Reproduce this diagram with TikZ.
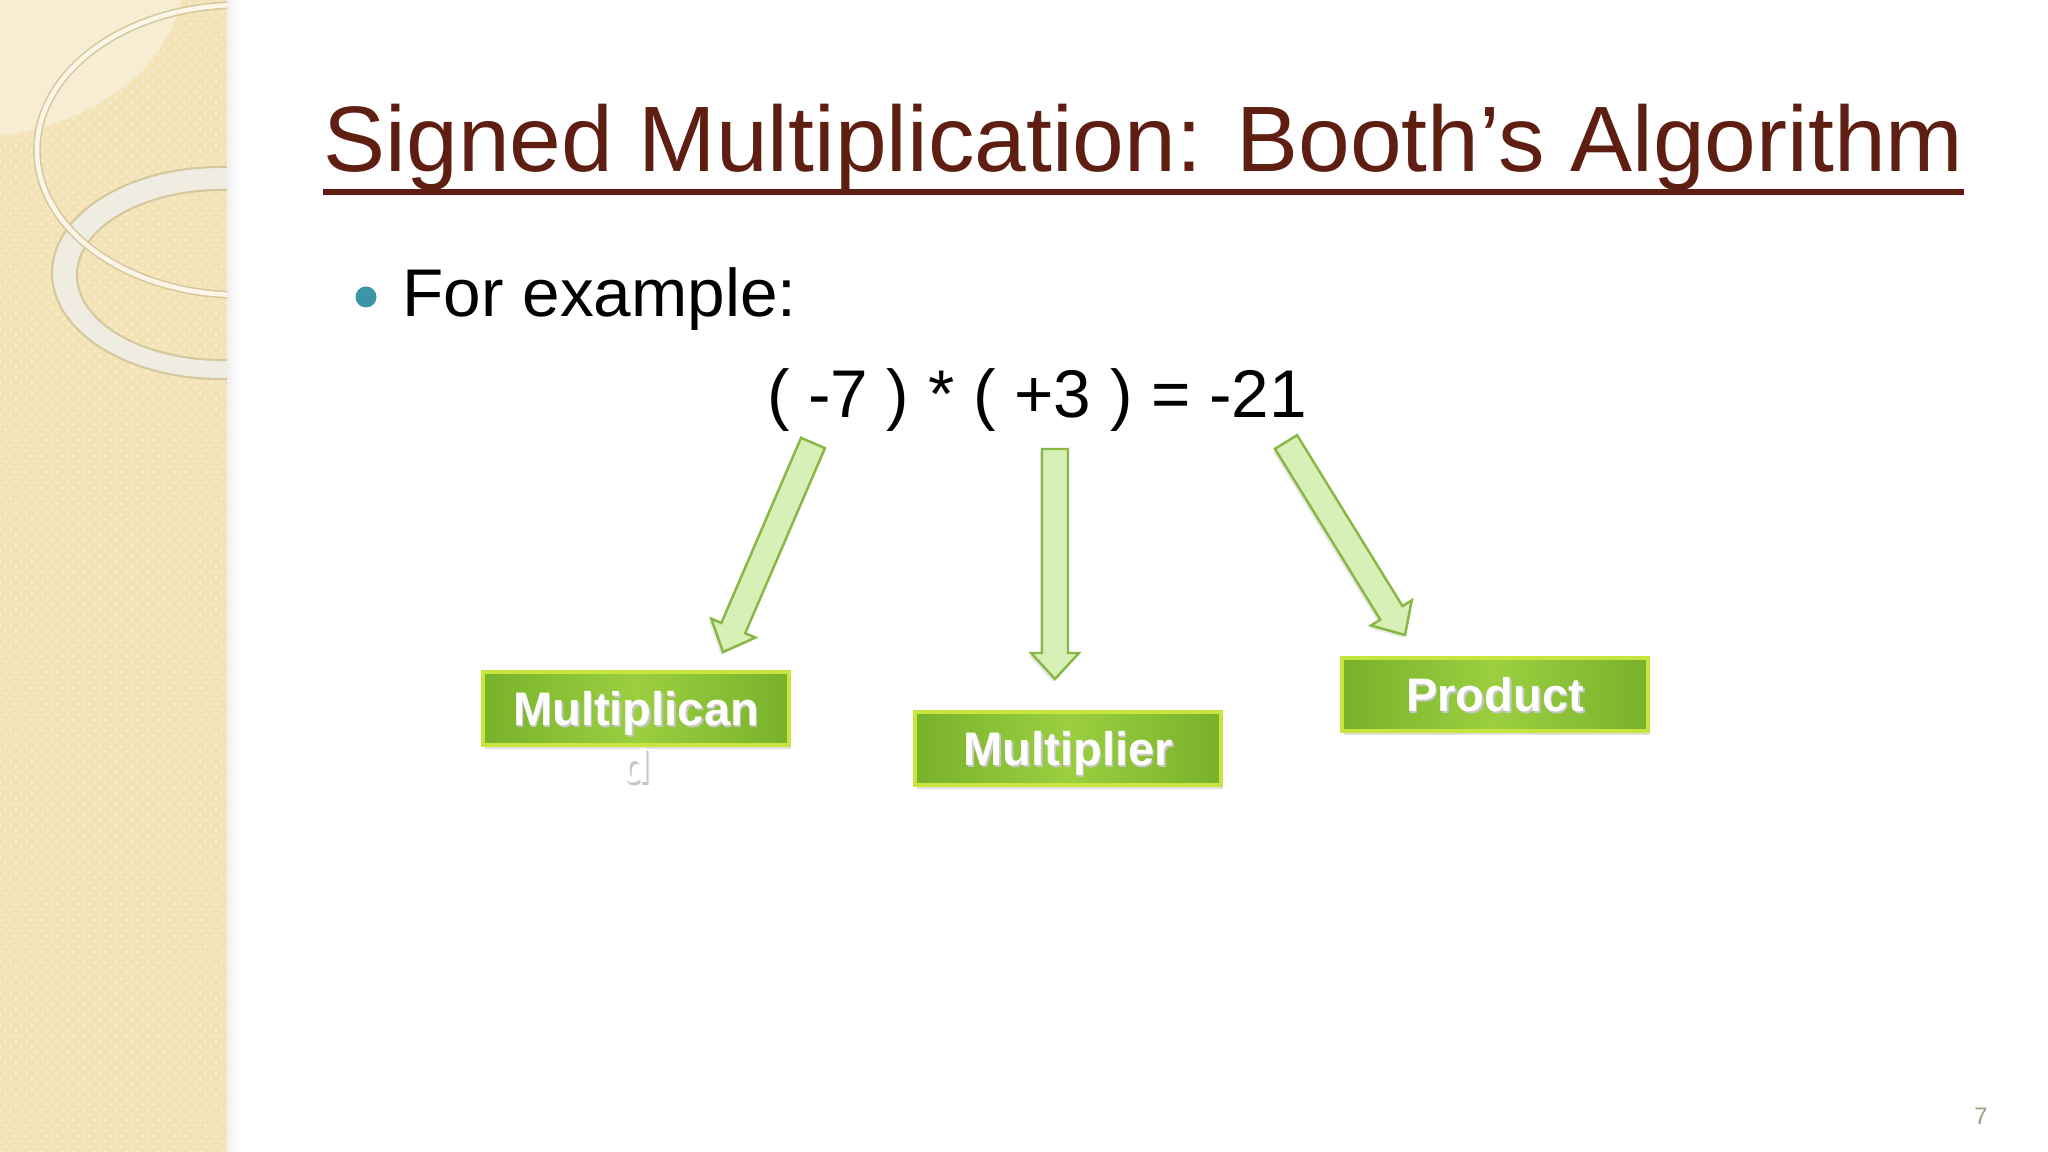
\documentclass[tikz,border=0pt]{standalone}
\usepackage{fontspec}
\setmainfont{Liberation Sans}
\usetikzlibrary{calc,shadows,patterns}

\definecolor{panelbeige}{HTML}{F3E3B7}
\definecolor{panellight}{HTML}{F7EDD3}
\definecolor{ringcream}{HTML}{EFECE2}
\definecolor{ringedge}{HTML}{D6C89E}
\definecolor{ringline}{HTML}{FBF6E8}
\definecolor{titlebrown}{HTML}{5E1E12}
\definecolor{bulletteal}{HTML}{3B95A6}
\definecolor{arrowfill}{HTML}{D6F0B7}
\definecolor{arrowrim}{HTML}{88B843}
\definecolor{boxdark}{HTML}{78B12A}
\definecolor{boxlight}{HTML}{9BCF40}
\definecolor{boxrim}{HTML}{C6E63F}
\definecolor{pagegray}{HTML}{9E9E80}

\newcommand\shtext[1]{\makebox[0pt][l]{\hspace{0.5pt}\raisebox{-0.6pt}{\textcolor{black!22}{#1}}}#1}
\newcommand\greenarrow[2]{%
  \coordinate (hb) at ($(#2)!2.6mm!(#1)$);
  \filldraw[bigarrow] ($(#1)!1.3mm!90:(#2)$) -- ($(hb)!1.3mm!90:(#2)$)
    -- ($(hb)!2.4mm!90:(#2)$) -- (#2) -- ($(hb)!2.4mm!-90:(#2)$)
    -- ($(hb)!1.3mm!-90:(#2)$) -- ($(#1)!1.3mm!-90:(#2)$) -- cycle;}

\begin{document}
\begin{tikzpicture}[x=0.1mm,y=-0.1mm,
    titletext/.style={inner sep=0pt,text=titlebrown,font=\fontsize{26.45}{32}\selectfont},
    bodytext/.style={inner sep=0pt,font=\fontsize{19.2}{23}\selectfont},
    bigarrow/.style={fill=arrowfill,draw=arrowrim,line width=0.7pt,line join=miter,
      drop shadow={shadow xshift=-0.6pt,shadow yshift=-0.8pt,opacity=0.18}},
    opbox/.style={rectangle,minimum width=30.6mm,minimum height=7.3mm,inner sep=0pt,
      text height=9.6pt,text depth=0pt,
      left color=boxdark,right color=boxdark,middle color=boxlight,
      draw=boxrim,line width=1.2pt,text=white,
      font=\fontsize{13.4}{16}\selectfont\bfseries,
      drop shadow={shadow xshift=0.5pt,shadow yshift=-1pt,opacity=0.25}},
    overflow/.style={inner sep=0pt,text=white,font=\fontsize{13.4}{16}\selectfont\bfseries}]
  \useasboundingbox (0,0) rectangle (2048,1152);
  \fill[white] (0,0) rectangle (2048,1152);
  % left panel
  \shade[left color=black!6,right color=white] (227,0) rectangle (240,1152);
  \fill[panelbeige] (0,0) rectangle (227,1152);
  \fill[pattern=crosshatch dots,pattern color=panellight] (0,0) rectangle (227,1152);
  \begin{scope}
    \clip (0,0) rectangle (227,1152);
    \fill[panellight] (-30,-30) ellipse [x radius=215,y radius=167];
    \filldraw[fill=ringcream,draw=ringedge,line width=0.6pt,even odd rule]
      (220,273) ellipse [x radius=168,y radius=106]
      (222,275) ellipse [x radius=145,y radius=85];
    \draw[ringedge,line width=2.2pt] (240,150) ellipse [x radius=203,y radius=145];
    \draw[ringline,line width=1.3pt] (240,150) ellipse [x radius=203,y radius=145];
  \end{scope}

  \node[titletext,anchor=base west] (title) at (323,172)
    {Signed Multiplication: Booth’s Algorithm};
  \draw[titlebrown,line width=1.5pt] (title.south west) -- (title.south east);

  \node[circle,fill=bulletteal,minimum size=2.1mm,inner sep=0pt] (dot) at (366,297) {};
  \node[bodytext,anchor=base west] (forex) at (402,317) {For example:};
  \node[bodytext,anchor=base] (eq) at (1037,418) {( -7 ) * ( +3 ) = -21};

  \node[opbox] (mcand) at (636,708.5) {\shtext{Multiplican}};
  \node[overflow,anchor=base] (mcandd) at (636,783) {\shtext{d}};
  \node[opbox] (mplier) at (1068,748.5) {\shtext{Multiplier}};
  \node[opbox] (prod) at (1495,694.5) {\shtext{Product}};

  \coordinate (ta) at (813,443);  \coordinate (pa) at (723,652);
  \coordinate (tb) at (1055,449); \coordinate (pb) at (1055,679);
  \coordinate (tc) at (1286,442); \coordinate (pc) at (1405,635);
  \greenarrow{ta}{pa}
  \greenarrow{tb}{pb}
  \greenarrow{tc}{pc}

  \node[text=pagegray,anchor=base,inner sep=0pt,font=\fontsize{6.8}{8}\selectfont]
    (pgnum) at (1981,1125) {7};
\end{tikzpicture}
\end{document}
